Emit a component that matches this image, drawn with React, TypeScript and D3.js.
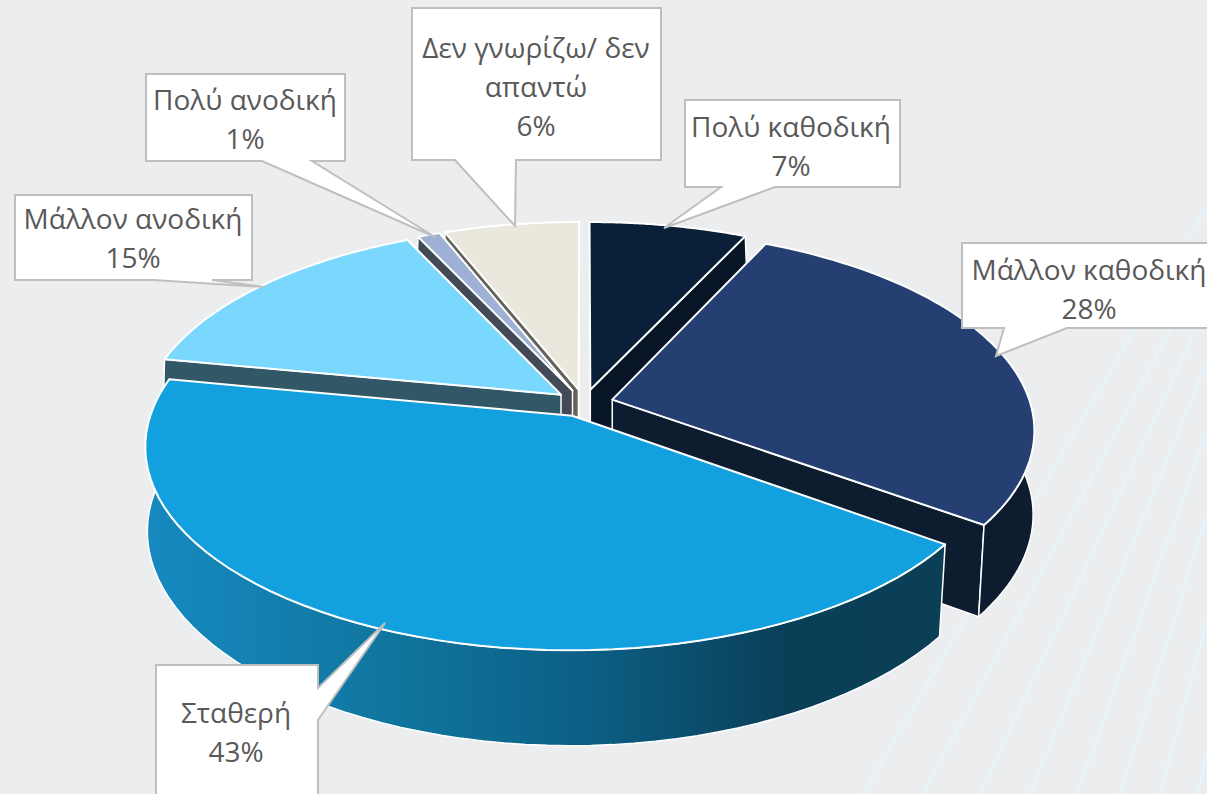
import { useRef, useEffect } from "react";
import * as d3 from "d3";

const categories = ["Πολύ καθοδική", "Μάλλον καθοδική", "Σταθερή", "Μάλλον ανοδική", "Πολύ ανοδική", "Δεν γνωρίζω/ δεν απαντώ"];
const values = [7, 28, 43, 15, 1, 6];
const topColors = ["#0a2038", "#253f73", "#13a0de", "#7ad7fd", "#9eb0d4", "#eae8dd"];
const wallColors = ["#071526", "#0e1c30", "url(#wallGrad)", "#325766", "#434a57", "#63625b"];
// back to front
const drawOrder = [0, 5, 4, 3, 1, 2];

// label lines per category, wrapped like the original
const labelLines = [["Πολύ καθοδική"], ["Μάλλον καθοδική"], ["Σταθερή"], ["Μάλλον ανοδική"], ["Πολύ ανοδική"], ["Δεν γνωρίζω/ δεν", "απαντώ"]];

// callout layout: box, pointer base and tip
const callouts = [
  { box: [685, 100, 900, 187], base: [[775, 187], [721, 187]], tip: [664, 228], cx: 791, y: 127 },
  { box: [962, 243, 1216, 328], base: [[1067, 328], [1004, 328]], tip: [996, 356], cx: 1089, y: 270 },
  { box: [156, 665, 318, 810], base: [[318, 688], [318, 720]], tip: [385, 623], cx: 236, y: 713 },
  { box: [15, 195, 252, 280], base: [[212, 280], [153, 280]], tip: [264, 287], cx: 133, y: 219 },
  { box: [146, 74, 345, 161], base: [[312, 161], [262, 161]], tip: [435, 237], cx: 245, y: 100 },
  { box: [412, 8, 661, 160], base: [[516, 160], [455, 160]], tip: [515, 226], cx: 536, y: 48 },
];

// background streaks: bottom edge x, then where they leave the right edge
const streaks = [
  [863, 794, 1207, 206],
  [923, 794, 1207, 261],
  [980, 794, 1207, 306],
  [1030, 794, 1207, 362],
  [1077, 794, 1207, 431],
  [1120, 794, 1207, 514],
  [1160, 794, 1207, 621],
  [1198, 794, 1207, 750],
];

const cx = 584;
const cy = 403;
const R = 418;
const Ry = 196;
const persp = 0.147;
const perspBottomX = 0.125; // bottom face converges a bit less in x
const explode = 0.07;
const depth = 88;
const stretchBottomY = 1.03;

export default function App() {
  const ref = useRef<SVGSVGElement>(null);

  useEffect(() => {
    const svg = d3.select(ref.current);
    svg.selectAll("*").remove();

    const defs = svg.append("defs");
    const grad = defs
      .append("linearGradient")
      .attr("id", "wallGrad")
      .attr("gradientUnits", "userSpaceOnUse")
      .attr("x1", 146)
      .attr("x2", 945)
      .attr("y1", 0)
      .attr("y2", 0);
    grad.append("stop").attr("offset", 0).attr("stop-color", "#1689c0");
    grad.append("stop").attr("offset", 0.3).attr("stop-color", "#10769f");
    grad.append("stop").attr("offset", 0.55).attr("stop-color", "#0c5f85");
    grad.append("stop").attr("offset", 0.8).attr("stop-color", "#0a3f58");
    grad.append("stop").attr("offset", 1).attr("stop-color", "#0a3f56");

    svg
      .selectAll("line.streak")
      .data(streaks)
      .enter()
      .append("line")
      .attr("class", "streak")
      .attr("x1", (d) => d[0])
      .attr("y1", (d) => d[1])
      .attr("x2", (d) => d[2])
      .attr("y2", (d) => d[3])
      .attr("stroke", "#e6f3f9")
      .attr("stroke-width", 3);

    const arcs = d3.pie<number>().sort(null)(values);

    // flat pie coords -> screen, level 0 is the top face and 1 the bottom
    const project = (u: number, v: number, level: number): [number, number] => {
      const w = 1 - persp * v;
      if (!level) return [cx + (R * u) / w, cy + (Ry * v) / w];
      return [cx + (R * u) / (1 - perspBottomX * v), cy + (stretchBottomY * Ry * v) / w + depth];
    };

    const line = d3.line<[number, number]>();

    const gSlices = svg.append("g");
    drawOrder.forEach((i) => {
      const a = arcs[i];
      const mid = (a.startAngle + a.endAngle) / 2;
      const ox = explode * Math.sin(mid);
      const oy = -explode * Math.cos(mid);
      const rim = (t: number): [number, number] => [ox + Math.sin(t), oy - Math.cos(t)];
      const steps = d3.range(0, 61).map((k) => a.startAngle + ((a.endAngle - a.startAngle) * k) / 60);

      const wall = (pts: [number, number][]) =>
        line([...pts.map((p) => project(p[0], p[1], 0)), ...pts.slice().reverse().map((p) => project(p[0], p[1], 1))]) + "Z";

      const apex: [number, number] = [ox, oy];
      // only the walls that face the viewer
      const walls: string[] = [];
      if (Math.sin(a.startAngle) < 0) walls.push(wall([apex, rim(a.startAngle)]));
      if (Math.sin(a.endAngle) > -0.001) walls.push(wall([apex, rim(a.endAngle)]));
      const front = steps.filter((t) => Math.cos(t) < 0.2);
      if (front.length > 1) walls.push(wall(front.map(rim)));
      walls.forEach((w) => {
        gSlices
          .append("path")
          .attr("d", w)
          .attr("fill", wallColors[i])
          .attr("stroke", "#ffffff")
          .attr("stroke-width", 1.5)
          .attr("stroke-linejoin", "round");
      });

      const top = line([apex, ...steps.map(rim)].map((p) => project(p[0], p[1], 0))) + "Z";
      gSlices
        .append("path")
        .attr("d", top)
        .attr("fill", topColors[i])
        .attr("stroke", "#ffffff")
        .attr("stroke-width", 2)
        .attr("stroke-linejoin", "round");
    });

    // callouts
    const gLabels = svg.append("g");
    categories.forEach((name, i) => {
      const c = callouts[i];
      const [x0, y0, x1, y1] = c.box;
      const onBottom = c.base[0][1] === y1;
      const pts = onBottom
        ? [[x0, y0], [x1, y0], [x1, y1], c.base[0], c.tip, c.base[1], [x0, y1]]
        : [[x0, y0], [x1, y0], c.base[0], c.tip, c.base[1], [x1, y1], [x0, y1]];
      gLabels
        .append("path")
        .attr("d", d3.line()(pts as [number, number][]) + "Z")
        .attr("fill", "#ffffff")
        .attr("stroke", "#bfbfbf")
        .attr("stroke-width", 2);

      const lines = [...labelLines[i], d3.format(".0f")(values[i]) + "%"];
      lines.forEach((t, k) => {
        gLabels
          .append("text")
          .attr("x", c.cx)
          .attr("y", c.y + k * 39)
          .attr("dy", "0.36em")
          .attr("text-anchor", "middle")
          .attr("font-family", "'Open Sans', sans-serif")
          .attr("font-size", 28)
          .attr("fill", "#595959")
          .text(t);
      });
    });
  }, []);

  return (
    <svg
      ref={ref}
      width={1207}
      height={794}
      style={{ position: "absolute", left: 0, top: 0, background: "#ecedef", display: "block" }}
    ></svg>
  );
}
